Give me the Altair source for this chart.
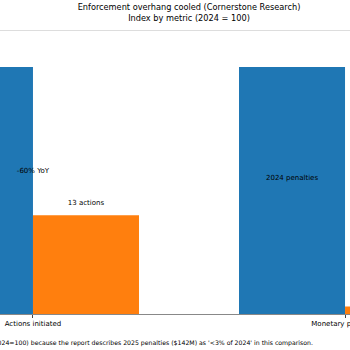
import altair as alt
import pandas as pd

# ---- data ----
categories = ["Actions initiated", "Monetary penalties"]
years = ["2024", "2025"]
index_2024 = [100, 100]
index_2025 = [40, 3]

group_label_cats = ["Actions initiated"]
group_label_text = ["-60% YoY"]
group_label_y = [58]

bar_label_cats = ["Actions initiated", "Monetary penalties"]
bar_label_years = ["2025", "2024"]
bar_label_text = ["13 actions", "2024 penalties"]
bar_label_y = [45, 55]

TITLE = ["Enforcement overhang cooled (Cornerstone Research)", "Index by metric (2024 = 100)"]
FOOTNOTE = ("Note: Penalties shown as an index (2024=100) because the report describes "
            "2025 penalties ($142M) as '<3% of 2024' in this comparison.")

FONT = "DejaVu Sans"

rows = []
for c, a, b in zip(categories, index_2024, index_2025):
    rows.append({"category": c, "year": years[0], "value": a})
    rows.append({"category": c, "year": years[1], "value": b})
bars_df = pd.DataFrame(rows)

group_df = pd.DataFrame({"category": group_label_cats, "label": group_label_text, "y": group_label_y})
barlab_df = pd.DataFrame({"category": bar_label_cats, "year": bar_label_years,
                          "label": bar_label_text, "y": bar_label_y})

x_enc = alt.X("category:N", sort=categories, title=None,
              scale=alt.Scale(paddingInner=0.3205, paddingOuter=0.096),
              axis=alt.Axis(labelAngle=0, labelFontSize=7, labelColor="black", labelFont=FONT,
                            tickColor="#444444", tickSize=3.5, domainColor="#888888",
                            labelPadding=2, grid=False))
xo_enc = alt.XOffset("year:N", sort=years, scale=alt.Scale(paddingInner=0, paddingOuter=0))
y_scale = alt.Scale(domain=[0, 115], nice=False, zero=True)

bars = alt.Chart(bars_df).mark_bar(strokeWidth=0).encode(
    x=x_enc,
    xOffset=xo_enc,
    y=alt.Y("value:Q", scale=y_scale, axis=None),
    color=alt.Color("year:N", scale=alt.Scale(domain=years, range=["#1f77b4", "#ff7f0e"]), legend=None),
)

group_text = alt.Chart(group_df).mark_text(fontSize=7, font=FONT, color="black", baseline="middle").encode(
    x=alt.X("category:N", sort=categories),
    y=alt.Y("y:Q", scale=y_scale),
    text="label:N",
)

bar_text = alt.Chart(barlab_df).mark_text(fontSize=7, font=FONT, color="black", baseline="middle").encode(
    x=alt.X("category:N", sort=categories),
    xOffset=alt.XOffset("year:N", sort=years),
    y=alt.Y("y:Q", scale=y_scale),
    text="label:N",
)

foot = alt.Chart(group_df).mark_text(text=FOOTNOTE, fontSize=6.2, font=FONT, color="black",
                                     align="right", baseline="middle").encode(
    x=alt.value(416), y=alt.value(313)
)

chart = alt.layer(bars, group_text, bar_text, foot).properties(
    width=584, height=284,
    autosize="none",
    padding={"left": -103, "top": 30, "right": -131, "bottom": 36},
    title=alt.TitleParams(text=TITLE, fontSize=8.2, font=FONT, fontWeight="normal", color="black",
                          anchor="middle", frame="group", offset=7, lineHeight=11),
).configure_view(stroke="#aaaaaa", strokeWidth=1.5).configure(background="white")

chart.save("out.html", embed_options={"renderer": "svg", "actions": False})
